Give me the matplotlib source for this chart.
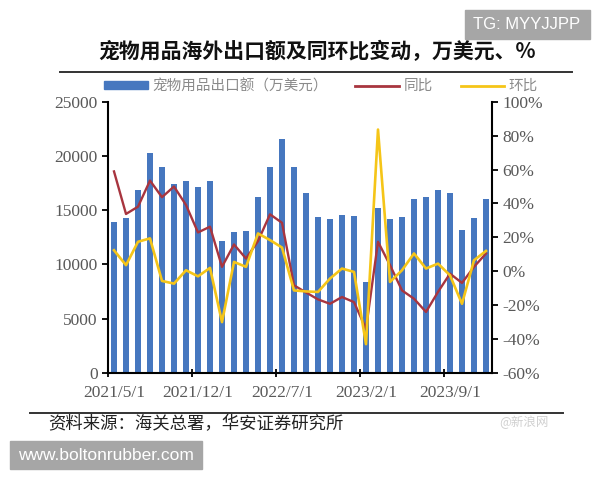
import numpy as np
import pandas as pd
import matplotlib
matplotlib.use('Agg')
import matplotlib.pyplot as plt
from matplotlib.lines import Line2D
from matplotlib.patches import Patch, Rectangle

plt.rcParams['font.family'] = ['Noto Sans CJK SC', 'DejaVu Sans']

# monthly categories 2021/5 .. 2023/12
months = pd.date_range('2021-05-01', '2023-12-01', freq='MS')
month_labels = [f'{d.year}/{d.month}/1' for d in months]
label_idx = [0, 7, 14, 21, 28]

# export value, 10k USD
export_value = [13900, 14250, 16900, 20300, 19000, 17400, 17700, 17100,
                17650, 12200, 12950, 13100, 16200, 19000, 21600, 18950,
                16600, 14400, 14200, 14600, 14500, 8400, 15250, 14200,
                14400, 16000, 16200, 16900, 16600, 13200, 14250, 16000]
# year on year, %
yoy = [58.9, 33.8, 38.1, 53.5, 43.7, 50.0, 39.1, 22.9,
       26.3, 2.6, 15.8, 7.5, 17.8, 33.6, 28.6, -8.3,
       -12.5, -16.6, -19.2, -15.2, -18.2, -34.0, 17.4, 3.6,
       -11.3, -16.2, -24.0, -12.2, -1.4, -6.9, 2.6, 10.5]
# month on month, %
mom = [12.4, 3.6, 17.4, 19.4, -5.7, -7.3, 0.6, -3.0,
       2.0, -30.0, 5.5, 2.6, 22.3, 18.4, 14.0, -11.3,
       -11.9, -12.2, -4.3, 1.6, -0.4, -43.0, 83.6, -6.3,
       0.6, 10.5, 1.6, 4.5, -2.4, -19.2, 6.5, 12.0]

BLUE = '#4677BF'
RED = '#A8353F'
YELLOW = '#F5C518'
GRAY = '#595959'

fig = plt.figure(figsize=(6, 4.8), dpi=100)
ax = fig.add_axes([0.18, 0.223, 0.64, 0.565])
ax2 = ax.twinx()

x = np.arange(len(months))
ax.bar(x, export_value, width=0.42, color=BLUE, zorder=2)
ax2.plot(x, yoy, color=RED, lw=1.7, zorder=3)
ax2.plot(x, mom, color=YELLOW, lw=1.9, zorder=4)

ax.set_xlim(-0.5, len(months) - 0.5)
ax.set_ylim(0, 25000)
ax.set_yticks(np.arange(0, 25001, 5000))
ax2.set_ylim(-60, 100)
ax2.set_yticks(np.arange(-60, 101, 20))
ax2.set_yticklabels([f'{v}%' for v in range(-60, 101, 20)])

ax.set_xticks(np.arange(-0.5, len(months), 7))
ax.set_xticklabels([])
ax.set_xticks(label_idx, minor=True)
ax.set_xticklabels([month_labels[i] for i in label_idx], minor=True)
ax.tick_params(axis='x', which='major', direction='inout', length=6, width=1.3, color='black')
ax.tick_params(axis='x', which='minor', length=0, pad=9)

for a in (ax, ax2):
    for s in a.spines.values():
        s.set_visible(False)
    a.tick_params(axis='y', direction='out', length=4, width=1.3, color='black')
ax.spines['left'].set_visible(True)
ax.spines['bottom'].set_visible(True)
ax2.spines['right'].set_visible(True)
for s in (ax.spines['left'], ax.spines['bottom'], ax2.spines['right']):
    s.set_linewidth(1.5)
    s.set_color('black')

for lab in ax.get_yticklabels() + ax2.get_yticklabels() + ax.get_xticklabels(minor=True):
    lab.set_family('Liberation Serif')
    lab.set_fontsize(12.5)
    lab.set_color(GRAY)

# title and rules
fig.text(0.528, 0.893, '宠物用品海外出口额及同环比变动，万美元、%',
         ha='center', va='center', fontsize=15, fontweight='heavy', color='#111111')
fig.add_artist(Line2D([60 / 600, 572 / 600], [1 - 72 / 480, 1 - 72 / 480],
                      color='#333333', lw=1.4, transform=fig.transFigure))
fig.add_artist(Line2D([30 / 600, 563 / 600], [1 - 413 / 480, 1 - 413 / 480],
                      color='#333333', lw=1.4, transform=fig.transFigure))

handles = [Patch(color=BLUE), Line2D([], [], color=RED, lw=2),
           Line2D([], [], color=YELLOW, lw=2)]
fig.legend(handles, ['宠物用品出口额（万美元）', '同比', '环比'],
           loc='center', bbox_to_anchor=(0.535, 1 - 86 / 480), ncol=3,
           frameon=False, fontsize=10.5, handlelength=3.0, handleheight=0.45,
           columnspacing=1.9, handletextpad=0.3, labelcolor='#8a8a8a')

fig.text(48 / 600, 1 - 424 / 480, '资料来源：海关总署，华安证券研究所',
         ha='left', va='center', fontsize=12.5, color='#222222')
fig.text(524 / 600, 1 - 422 / 480, '@新浪网', ha='center', va='center',
         fontsize=9, color='#d0d0d0')

# watermark boxes
fig.add_artist(Rectangle((465 / 600, 1 - 39 / 480), 125 / 600, 29 / 480,
                         color='#a6a6a6', transform=fig.transFigure))
fig.text(527 / 600, 1 - 24.5 / 480, 'TG: MYYJJPP', ha='center', va='center',
         fontsize=12, color='white', family='Liberation Sans')
fig.add_artist(Rectangle((10 / 600, 1 - 469 / 480), 192 / 600, 28 / 480,
                         color='#a6a6a6', transform=fig.transFigure))
fig.text(106 / 600, 1 - 455 / 480, 'www.boltonrubber.com', ha='center', va='center',
         fontsize=12.5, color='white', family='Liberation Sans')

fig.savefig('out.png', dpi=100)
